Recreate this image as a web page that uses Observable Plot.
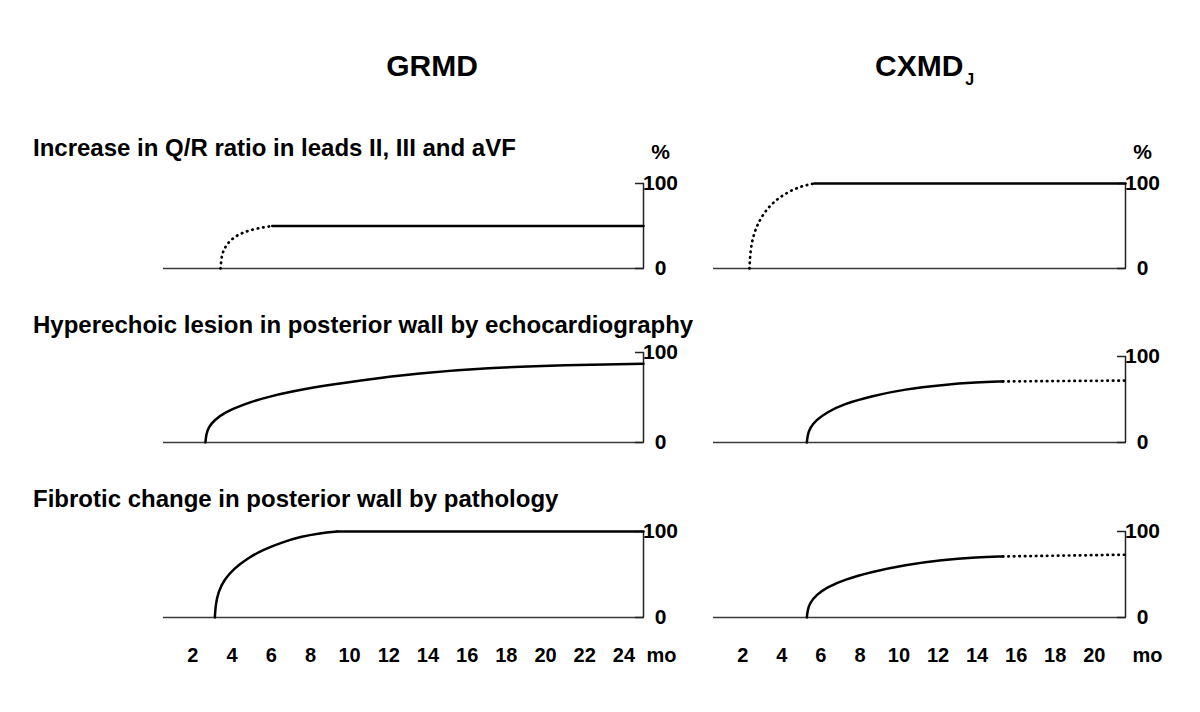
<!DOCTYPE html>
<html><head><meta charset="utf-8">
<script src="https://cdn.jsdelivr.net/npm/d3@7"></script>
<script src="https://cdn.jsdelivr.net/npm/@observablehq/plot@0.6"></script>
<style>
body{margin:0;background:#fff;}
#root{position:relative;width:1200px;height:712px;font-family:"Liberation Sans",Arial,sans-serif;color:#000;overflow:hidden;}
.t{position:absolute;font-weight:bold;white-space:nowrap;line-height:1;}
.panel{position:absolute;}
.panel svg{overflow:visible;}
</style></head><body><div id="root"></div>
<script>
// ---- data ----
const columnTitles = ["GRMD", "CXMD"];
const columnSubscripts = ["", "J"];
const rowTitles = [
  "Increase in Q/R ratio in leads II, III and aVF",
  "Hyperechoic lesion in posterior wall by echocardiography",
  "Fibrotic change in posterior wall by pathology"
];
const xUnit = "mo";
const yUnit = "%";
const yTicks = [0, 100];
const xTicksGRMD = [2, 4, 6, 8, 10, 12, 14, 16, 18, 20, 22, 24];
const xTicksCXMD = [2, 4, 6, 8, 10, 12, 14, 16, 18, 20];
const xDomainGRMD = [0.5, 25];
const xDomainCXMD = [0.5, 21.6];

// Row 1: Q/R ratio
const qrGRMDDotMonths = [3.41, 3.45, 3.55, 3.75, 4.05, 4.5, 5.2, 6.05];
const qrGRMDDotValues = [0, 12, 21, 29, 36, 42, 47, 50];
const qrGRMDSolidMonths = [6.05, 25];
const qrGRMDSolidValues = [50, 50];
const qrCXMDDotMonths = [2.34, 2.38, 2.5, 2.75, 3.1, 3.6, 4.3, 5.0, 5.66];
const qrCXMDDotValues = [0, 18, 36, 52, 66, 79, 90, 97, 100];
const qrCXMDSolidMonths = [5.66, 21.6];
const qrCXMDSolidValues = [100, 100];

// Row 2: echocardiography
const echoGRMDSolidMonths = [2.64, 2.68, 2.8, 3.1, 3.6, 4.5, 6.0, 8.0, 10.5, 13.5, 17.0, 21.0, 25];
const echoGRMDSolidValues = [0, 9, 17, 25, 33, 42, 52, 61, 69, 77, 83, 86, 87.5];
const echoCXMDSolidMonths = [5.28, 5.32, 5.45, 5.75, 6.3, 7.2, 8.6, 10.3, 12.2, 14.0, 15.32];
const echoCXMDSolidValues = [0, 9, 17, 26, 35, 45, 54, 62, 67, 70, 71];
const echoCXMDDotMonths = [15.32, 21.6];
const echoCXMDDotValues = [71, 72];

// Row 3: pathology
const fibGRMDRiseMonths = [3.12, 3.16, 3.3, 3.6, 4.1, 4.8, 5.6, 6.5, 7.5, 8.5, 9.37];
const fibGRMDRiseValues = [0, 15, 30, 44, 57, 69, 79, 87, 94, 98, 100];
const fibGRMDFlatMonths = [9.37, 25];
const fibGRMDFlatValues = [100, 100];
const fibCXMDSolidMonths = [5.28, 5.32, 5.45, 5.75, 6.3, 7.2, 8.6, 10.3, 12.2, 14.0, 15.32];
const fibCXMDSolidValues = [0, 9, 17, 26, 35, 44, 53, 61, 67, 70, 71];
const fibCXMDDotMonths = [15.32, 21.6];
const fibCXMDDotValues = [71, 73];

// ---- drawing ----
const root = document.getElementById("root");
const FONT = '"Liberation Sans", Arial, sans-serif';

function pts(ms, vs) { return ms.map((m, i) => ({m, v: vs[i]})); }

function makePanel(p) {
  const marks = [
    Plot.ruleY([0], {stroke: "#3a3a3a", strokeWidth: 1.7}),
    Plot.ruleX([p.domain[1]], {y1: 0, y2: 100, stroke: "#222", strokeWidth: 1.5}),
    Plot.axisY(yTicks, {anchor: "right", tickSize: -9, tickPadding: 26, textAnchor: "middle",
      fontSize: 21, fontWeight: "bold", label: null, strokeWidth: 1.5, stroke: "#222", fill: "#000"})
  ];
  for (const seg of p.segments) {
    marks.push(Plot.line(pts(seg.months, seg.values), {
      x: "m", y: "v", curve: "basis", stroke: "#000",
      strokeWidth: seg.dotted ? 2.7 : 2.5,
      strokeDasharray: seg.dotted ? "0.5,5" : null,
      strokeLinecap: "round"
    }));
  }
  if (p.showX) {
    marks.push(Plot.axisX(p.ticks, {anchor: "bottom", tickSize: 0, tickPadding: 30,
      fontSize: 20, fontWeight: "bold", label: null, fill: "#000"}));
    marks.push(Plot.text([xUnit], {x: () => p.domain[1], text: d => d, frameAnchor: "bottom",
      lineAnchor: "top", dy: 30, dx: p.unitDx, fontSize: 20, fontWeight: "bold",
      textAnchor: "middle", fill: "#000"}));
  }
  if (p.showPct) {
    marks.push(Plot.text([yUnit], {x: () => p.domain[1], y: () => 100, text: d => d,
      dx: 17, dy: -31, fontSize: 21, fontWeight: "bold", textAnchor: "middle", fill: "#000"}));
  }
  const svg = Plot.plot({
    width: p.width, height: p.height,
    marginTop: p.mt, marginBottom: p.mb, marginLeft: p.ml, marginRight: p.mr,
    x: {domain: p.domain, label: null, axis: p.showX ? undefined : null},
    y: {domain: [0, 100], label: null},
    marks,
    style: {background: "transparent", fontFamily: FONT, overflow: "visible"}
  });
  const div = document.createElement("div");
  div.className = "panel";
  div.style.left = p.left + "px";
  div.style.top = p.top + "px";
  div.appendChild(svg);
  root.appendChild(div);
}

const L = {left: 140, width: 560, ml: 23, mr: 57, domain: xDomainGRMD, ticks: xTicksGRMD, unitDx: 18};
const R = {left: 690, width: 500, ml: 23, mr: 65, domain: xDomainCXMD, ticks: xTicksCXMD, unitDx: 22};

makePanel({...L, top: 140, height: 150, mt: 43, mb: 22, showPct: true,
  segments: [
    {months: qrGRMDDotMonths, values: qrGRMDDotValues, dotted: true},
    {months: qrGRMDSolidMonths, values: qrGRMDSolidValues}
  ]});
makePanel({...R, top: 140, height: 150, mt: 43, mb: 22, showPct: true,
  segments: [
    {months: qrCXMDDotMonths, values: qrCXMDDotValues, dotted: true},
    {months: qrCXMDSolidMonths, values: qrCXMDSolidValues}
  ]});
makePanel({...L, top: 335, height: 125, mt: 17, mb: 18,
  segments: [
    {months: echoGRMDSolidMonths, values: echoGRMDSolidValues}
  ]});
makePanel({...R, top: 335, height: 125, mt: 21, mb: 18,
  segments: [
    {months: echoCXMDSolidMonths, values: echoCXMDSolidValues},
    {months: echoCXMDDotMonths, values: echoCXMDDotValues, dotted: true}
  ]});
makePanel({...L, top: 515, height: 170, mt: 16, mb: 68, showX: true,
  segments: [
    {months: fibGRMDRiseMonths, values: fibGRMDRiseValues},
    {months: fibGRMDFlatMonths, values: fibGRMDFlatValues}
  ]});
makePanel({...R, top: 515, height: 170, mt: 16, mb: 68, showX: true,
  segments: [
    {months: fibCXMDSolidMonths, values: fibCXMDSolidValues},
    {months: fibCXMDDotMonths, values: fibCXMDDotValues, dotted: true}
  ]});

// titles (HTML text)
function addText(txt, left, top, size, extra) {
  const d = document.createElement("div");
  d.className = "t";
  d.style.left = left + "px";
  d.style.top = top + "px";
  d.style.fontSize = size + "px";
  if (extra) Object.assign(d.style, extra);
  d.textContent = txt;
  root.appendChild(d);
  return d;
}
addText(columnTitles[0], 332, 51, 30, {width: "200px", textAlign: "center"});
const cx = addText(columnTitles[1], 875, 51, 30);
const sub = document.createElement("span");
sub.textContent = columnSubscripts[1];
sub.style.fontSize = "16px";
sub.style.position = "relative";
sub.style.top = "9px";
sub.style.marginLeft = "2px";
cx.appendChild(sub);

const rowTops = [136, 313, 487];
rowTitles.forEach((t, i) => addText(t, 33, rowTops[i], 24));
</script>
</body></html>
